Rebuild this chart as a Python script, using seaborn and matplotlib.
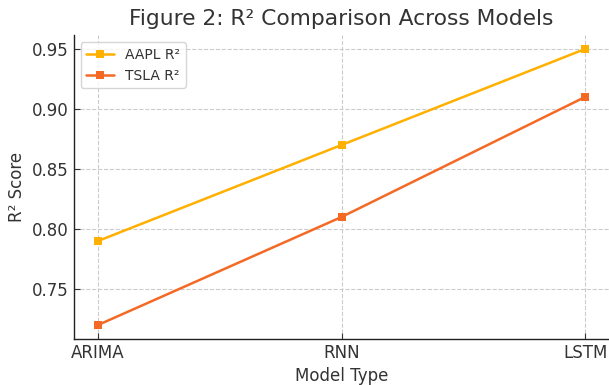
import matplotlib
matplotlib.use("Agg")
import matplotlib.pyplot as plt
import seaborn as sns
import pandas as pd

models = ["ARIMA", "RNN", "LSTM"]
aapl_r2 = [0.79, 0.87, 0.95]
tsla_r2 = [0.72, 0.81, 0.91]

sns.set_style("ticks")
plt.rcParams['font.family'] = ['DejaVu Sans']
plt.rcParams['text.color'] = '#333333'
plt.rcParams['axes.labelcolor'] = '#333333'
plt.rcParams['xtick.color'] = '#333333'
plt.rcParams['ytick.color'] = '#333333'
plt.rcParams['xtick.direction'] = 'in'
plt.rcParams['ytick.direction'] = 'in'

df = pd.DataFrame({
    "Model": models * 2,
    "R2": aapl_r2 + tsla_r2,
    "Series": ["AAPL R²"] * 3 + ["TSLA R²"] * 3,
})

fig = plt.figure(figsize=(6.09, 3.85), dpi=100)
ax = fig.add_axes([0.1209, 0.12, 0.8798, 0.7886])

palette = {"AAPL R²": "#FFB000", "TSLA R²": "#F46A25"}
sns.lineplot(data=df, x="Model", y="R2", hue="Series", palette=palette,
             marker="s", markersize=6, markeredgewidth=0, linewidth=1.8, ax=ax, sort=False)

ax.grid(True, linestyle="--", color="#cccccc", linewidth=0.8)
ax.set_axisbelow(True)
for s in ["top", "right"]:
    ax.spines[s].set_visible(False)
for s in ["left", "bottom"]:
    ax.spines[s].set_color("#222222")
    ax.spines[s].set_linewidth(1.0)

ax.set_title("Figure 2: R² Comparison Across Models", fontsize=15.7, pad=7)
ax.set_xlabel("Model Type", fontsize=12)
ax.set_ylabel("R² Score", fontsize=12)
ax.tick_params(labelsize=12, direction="in", length=4)
ax.set_yticks([0.75, 0.80, 0.85, 0.90, 0.95])
ax.legend(title=None, loc="upper left", fontsize=10, frameon=True)

fig.savefig("out.png", dpi=100)
